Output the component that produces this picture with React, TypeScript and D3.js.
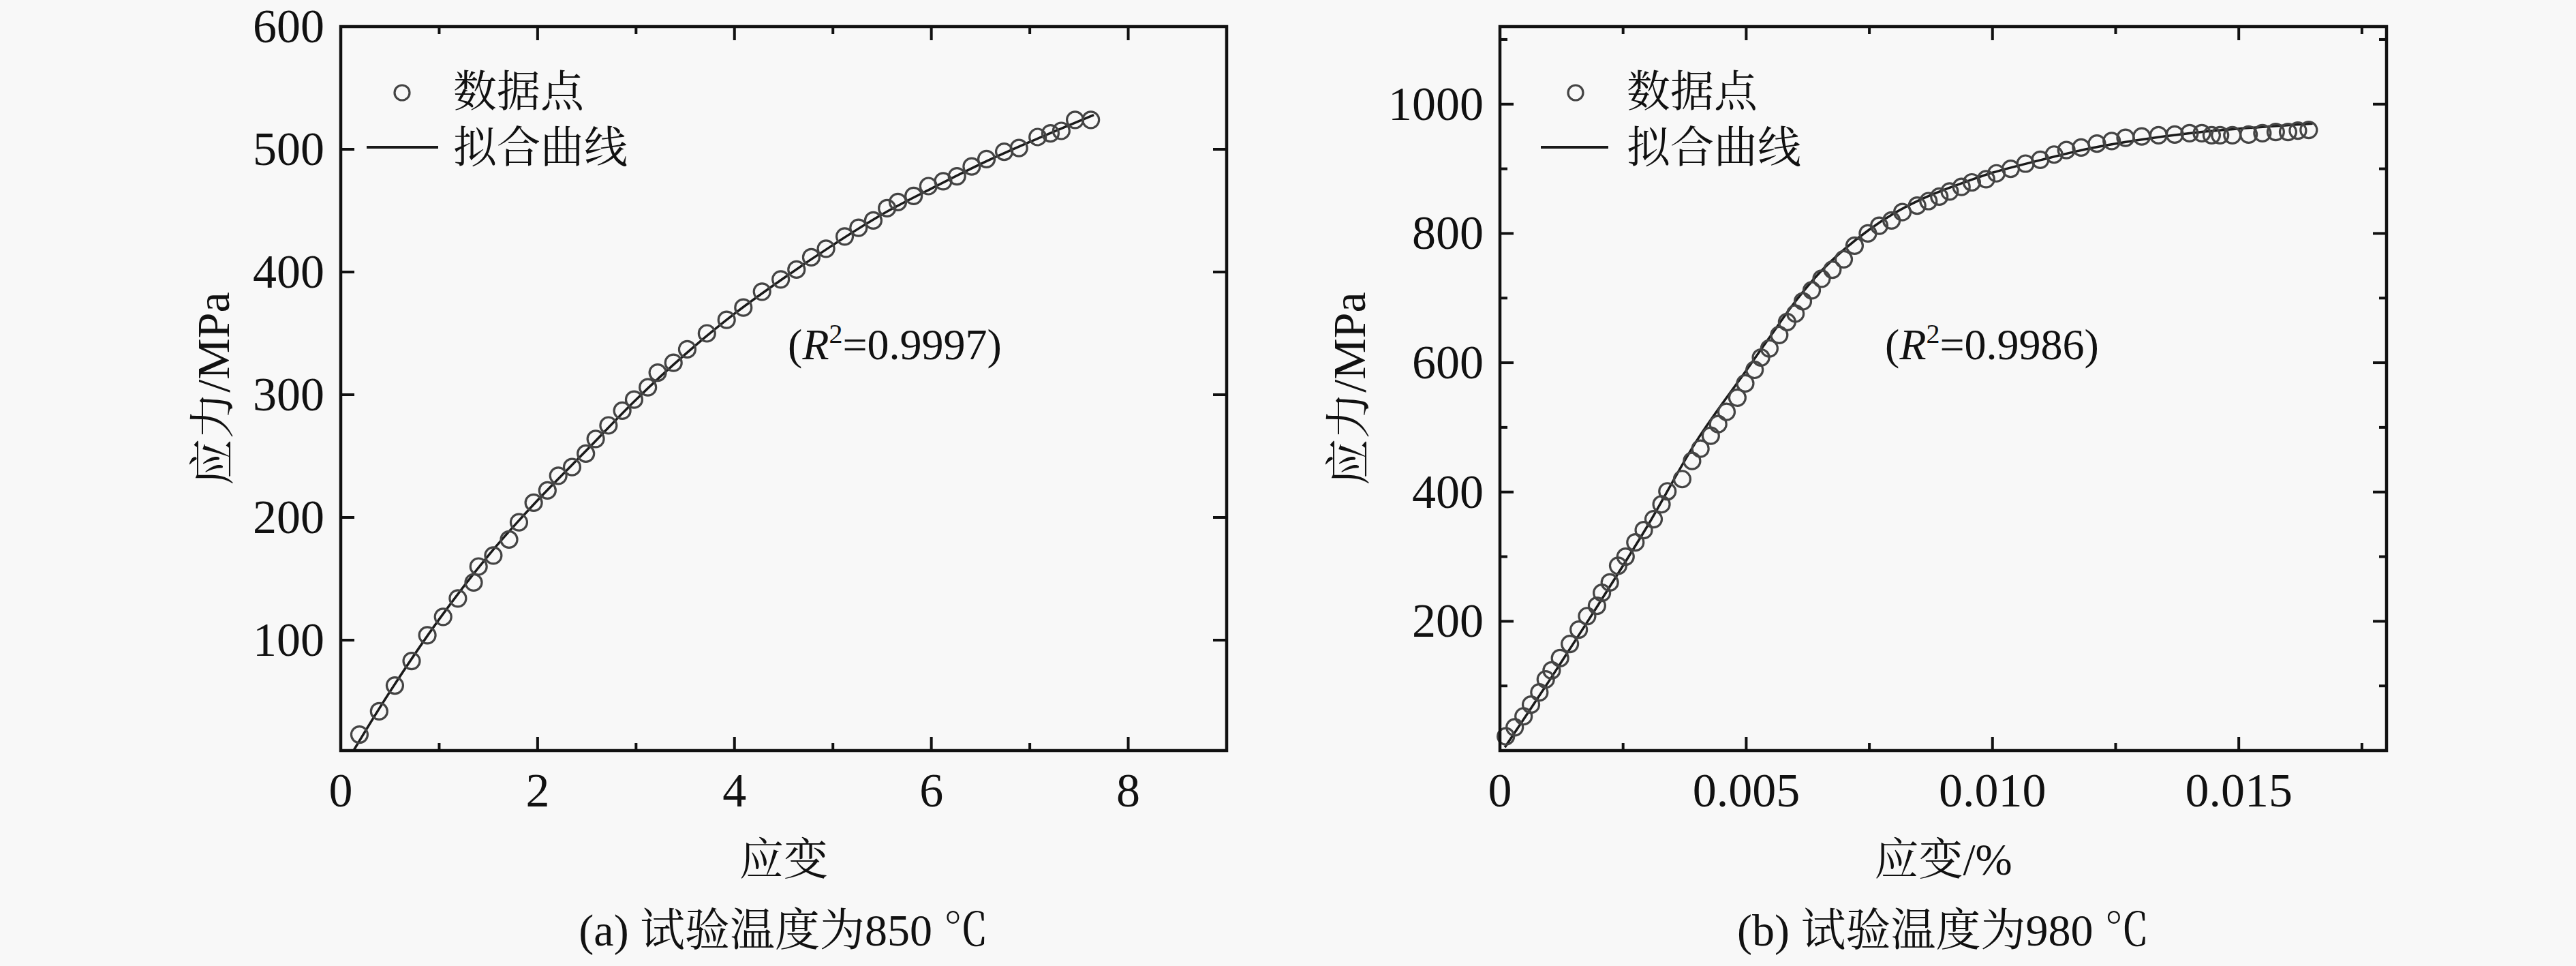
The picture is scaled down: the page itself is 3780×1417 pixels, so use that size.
import React, { useEffect, useRef } from "react";
import * as d3 from "d3";

// ---- panel (a): 850 ℃ ----
const strainA = [0.19, 0.39, 0.55, 0.72, 0.88, 1.04, 1.19, 1.35, 1.40, 1.55, 1.71, 1.81, 1.96, 2.10, 2.21, 2.35, 2.49, 2.59, 2.72, 2.86, 2.98, 3.12, 3.22, 3.38, 3.52, 3.72, 3.92, 4.09, 4.28, 4.47, 4.63, 4.78, 4.93, 5.12, 5.26, 5.41, 5.55, 5.66, 5.82, 5.97, 6.12, 6.26, 6.41, 6.56, 6.74, 6.89, 7.08, 7.21, 7.32, 7.46, 7.62];
const stressA = [23, 42, 63, 83, 104, 119, 134, 147, 160, 169, 182, 196, 212, 222, 234, 241, 252, 264, 275, 287, 296, 306, 318, 326, 337, 350, 361, 371, 384, 394, 402, 412, 419, 429, 436, 442, 452, 457, 462, 470, 474, 478, 486, 492, 498, 501, 510, 513, 515, 524, 524];
const fitStrainA = [0.13, 0.5, 1.0, 1.5, 2.0, 2.5, 3.0, 3.5, 4.0, 4.5, 5.0, 5.5, 6.0, 6.5, 7.0, 7.65];
const fitStressA = [10, 58, 117, 169, 214, 255, 296, 333, 366, 395, 422, 447, 468, 488, 506, 528];
const xTicksA = [0, 2, 4, 6, 8];
const xMinorA = [1, 3, 5, 7];
const yTicksA = [100, 200, 300, 400, 500, 600];
const yMinorA: number[] = [];

// ---- panel (b): 980 ℃ ----
const strainB = [0.00012, 0.0003, 0.00048, 0.00063, 0.0008, 0.00093, 0.00105, 0.00122, 0.00142, 0.0016, 0.00177, 0.00197, 0.00207, 0.00223, 0.0024, 0.00255, 0.00275, 0.00292, 0.00312, 0.00328, 0.0034, 0.0037, 0.0039, 0.00407, 0.00428, 0.00443, 0.0046, 0.00482, 0.00498, 0.00517, 0.0053, 0.00547, 0.00567, 0.00583, 0.006, 0.00615, 0.00633, 0.00653, 0.00675, 0.00698, 0.0072, 0.00747, 0.0077, 0.00795, 0.00817, 0.00847, 0.0087, 0.00892, 0.00913, 0.00937, 0.00958, 0.00987, 0.01008, 0.01037, 0.01067, 0.01097, 0.01125, 0.0115, 0.0118, 0.01212, 0.01242, 0.0127, 0.01303, 0.01337, 0.0137, 0.014, 0.01425, 0.01445, 0.01462, 0.01487, 0.0152, 0.01548, 0.01575, 0.016, 0.0162, 0.01642];
const stressB = [22, 36, 53, 71, 90, 110, 124, 143, 165, 187, 208, 224, 244, 260, 286, 300, 322, 341, 358, 381, 401, 420, 448, 467, 487, 505, 524, 546, 568, 589, 608, 622, 643, 663, 676, 695, 712, 730, 744, 760, 781, 800, 812, 820, 833, 843, 850, 857, 865, 872, 879, 884, 893, 900, 908, 914, 922, 929, 933, 939, 943, 948, 950, 952, 953, 955, 955, 952, 952, 952, 953, 955, 957, 957, 959, 960];
const fitStrainB = [0.0001, 0.001, 0.002, 0.003, 0.004, 0.005, 0.0055, 0.006, 0.0065, 0.007, 0.0075, 0.008, 0.0085, 0.009, 0.0095, 0.010, 0.011, 0.012, 0.013, 0.014, 0.015, 0.0165];
const fitStressB = [5, 108, 226, 348, 480, 588, 642, 695, 740, 776, 806, 831, 851, 867, 881, 894, 914, 932, 945, 955, 962, 970];
const xTicksB = [0, 0.005, 0.010, 0.015];
const xTickLabelsB = ["0", "0.005", "0.010", "0.015"];
const xMinorB = [0.0025, 0.0075, 0.0125, 0.0175];
const yTicksB = [200, 400, 600, 800, 1000];
const yMinorB = [100, 300, 500, 700, 900, 1100];

const LATIN = "'Liberation Serif', 'Times New Roman', serif";
const MIXED = "'Liberation Serif', 'Noto Serif CJK SC', 'Noto Sans CJK SC', serif";

type Panel = {
  left: number; right: number; top: number; bottom: number;
  xDomain: [number, number]; yDomain: [number, number];
  strain: number[]; stress: number[]; fitStrain: number[]; fitStress: number[];
  xTicks: number[]; xLabels: string[]; xMinor: number[];
  yTicks: number[]; yMinor: number[];
  xTitle: string; yTitleX: number; caption: string; r2: string; r2X: number;
  legendCircleX: number; legendLineX: [number, number]; legendTextX: number;
};

const panels: Panel[] = [
  {
    left: 500, right: 1800, top: 39, bottom: 1101,
    xDomain: [0, 9], yDomain: [10, 600],
    strain: strainA, stress: stressA, fitStrain: fitStrainA, fitStress: fitStressA,
    xTicks: xTicksA, xLabels: xTicksA.map(String), xMinor: xMinorA,
    yTicks: yTicksA, yMinor: yMinorA,
    xTitle: "应变", yTitleX: 336, caption: "(a) 试验温度为850 ℃", r2: "0.9997", r2X: 1313,
    legendCircleX: 590, legendLineX: [538, 643], legendTextX: 665,
  },
  {
    left: 2201, right: 3502, top: 39, bottom: 1101,
    xDomain: [0, 0.018], yDomain: [0, 1120],
    strain: strainB, stress: stressB, fitStrain: fitStrainB, fitStress: fitStressB,
    xTicks: xTicksB, xLabels: xTickLabelsB, xMinor: xMinorB,
    yTicks: yTicksB, yMinor: yMinorB,
    xTitle: "应变/%", yTitleX: 2003, caption: "(b) 试验温度为980 ℃", r2: "0.9986", r2X: 2923,
    legendCircleX: 2312, legendLineX: [2261, 2360], legendTextX: 2387,
  },
];

const App: React.FC = () => {
  const svgRef = useRef<SVGSVGElement>(null);

  useEffect(() => {
    if (!svgRef.current) return;
    const svg = d3.select(svgRef.current);
    svg.selectAll("*").remove();

    svg.append("rect").attr("width", 3780).attr("height", 1417).attr("fill", "#f8f8f8");

    panels.forEach(p => {
      const x = d3.scaleLinear().domain(p.xDomain).range([p.left, p.right]);
      const y = d3.scaleLinear().domain(p.yDomain).range([p.bottom, p.top]);
      const g = svg.append("g");

      // fitted curve
      const line = d3
        .line<number>()
        .x((_, i) => x(p.fitStrain[i]))
        .y(d => y(d))
        .curve(d3.curveCatmullRom);
      g.append("path")
        .datum(p.fitStress)
        .attr("d", line)
        .attr("fill", "none")
        .attr("stroke", "#1a1a1a")
        .attr("stroke-width", 3.5);

      // data points
      g.append("g")
        .selectAll("circle")
        .data(p.stress)
        .join("circle")
        .attr("cx", (_, i) => x(p.strain[i]))
        .attr("cy", d => y(d))
        .attr("r", 12)
        .attr("fill", "none")
        .attr("stroke", "#444")
        .attr("stroke-width", 3.2);

      // frame
      g.append("rect")
        .attr("x", p.left).attr("y", p.top)
        .attr("width", p.right - p.left).attr("height", p.bottom - p.top)
        .attr("fill", "none").attr("stroke", "#111").attr("stroke-width", 4.5);

      const ticks = g.append("g").attr("stroke", "#111").attr("stroke-width", 4);
      const drawX = (vals: number[], len: number) =>
        vals.forEach(v => {
          ticks.append("line").attr("x1", x(v)).attr("x2", x(v)).attr("y1", p.bottom).attr("y2", p.bottom - len);
          ticks.append("line").attr("x1", x(v)).attr("x2", x(v)).attr("y1", p.top).attr("y2", p.top + len);
        });
      const drawY = (vals: number[], len: number) =>
        vals.forEach(v => {
          ticks.append("line").attr("y1", y(v)).attr("y2", y(v)).attr("x1", p.left).attr("x2", p.left + len);
          ticks.append("line").attr("y1", y(v)).attr("y2", y(v)).attr("x1", p.right).attr("x2", p.right - len);
        });
      drawX(p.xTicks, 20);
      drawX(p.xMinor, 11);
      drawY(p.yTicks, 20);
      drawY(p.yMinor, 11);

      // tick labels
      g.append("g")
        .selectAll("text")
        .data(p.xTicks)
        .join("text")
        .attr("x", d => x(d))
        .attr("y", 1183)
        .attr("text-anchor", "middle")
        .style("font-family", LATIN)
        .style("font-size", "70px")
        .attr("fill", "#111")
        .text((_, i) => p.xLabels[i]);

      g.append("g")
        .selectAll("text")
        .data(p.yTicks)
        .join("text")
        .attr("x", p.left - 24)
        .attr("y", d => y(d) + 23)
        .attr("text-anchor", "end")
        .style("font-family", LATIN)
        .style("font-size", "70px")
        .attr("fill", "#111")
        .text(d => String(d));

      // axis titles
      const cx = (p.left + p.right) / 2;
      g.append("text")
        .attr("x", cx).attr("y", 1283)
        .attr("text-anchor", "middle")
        .style("font-family", MIXED).style("font-size", "65px")
        .attr("fill", "#111")
        .text(p.xTitle);

      g.append("text")
        .attr("transform", `translate(${p.yTitleX},${(p.top + p.bottom) / 2}) rotate(-90)`)
        .attr("text-anchor", "middle")
        .style("font-family", MIXED).style("font-size", "68px")
        .attr("fill", "#111")
        .text("应力/MPa");

      g.append("text")
        .attr("x", cx).attr("y", 1387)
        .attr("text-anchor", "middle")
        .style("font-family", MIXED).style("font-size", "66px")
        .attr("fill", "#111")
        .text(p.caption);

      // R² annotation
      const r2 = g.append("text")
        .attr("x", p.r2X).attr("y", 527)
        .attr("text-anchor", "middle")
        .style("font-family", LATIN).style("font-size", "64px")
        .attr("fill", "#111");
      r2.append("tspan").text("(");
      r2.append("tspan").style("font-style", "italic").text("R");
      r2.append("tspan").attr("dy", -24).style("font-size", "40px").text("2");
      r2.append("tspan").attr("dy", 24).text(`=${p.r2})`);

      // legend
      g.append("circle")
        .attr("cx", p.legendCircleX).attr("cy", 136).attr("r", 11)
        .attr("fill", "none").attr("stroke", "#444").attr("stroke-width", 3.2);
      g.append("line")
        .attr("x1", p.legendLineX[0]).attr("x2", p.legendLineX[1])
        .attr("y1", 216).attr("y2", 216)
        .attr("stroke", "#1a1a1a").attr("stroke-width", 4);
      g.append("text")
        .attr("x", p.legendTextX).attr("y", 156)
        .style("font-family", MIXED).style("font-size", "64px")
        .attr("fill", "#111")
        .text("数据点");
      g.append("text")
        .attr("x", p.legendTextX).attr("y", 238)
        .style("font-family", MIXED).style("font-size", "64px")
        .attr("fill", "#111")
        .text("拟合曲线");
    });
  }, []);

  return (
    <svg
      ref={svgRef}
      width={3780}
      height={1417}
      style={{ position: "absolute", left: 0, top: 0, display: "block" }}
    />
  );
};

export default App;
